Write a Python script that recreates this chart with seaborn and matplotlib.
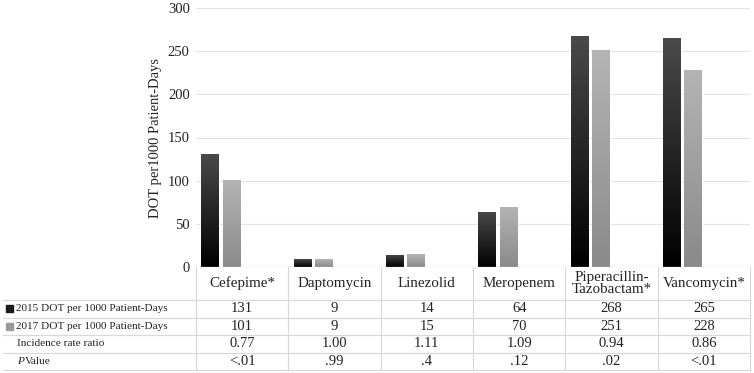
import numpy as np
import pandas as pd
import seaborn as sns
import matplotlib.pyplot as plt
from matplotlib.transforms import blended_transform_factory
from matplotlib.patches import Rectangle
from matplotlib.colors import LinearSegmentedColormap

categories = ["Cefepime*", "Daptomycin", "Linezolid", "Meropenem",
              "Piperacillin-\nTazobactam*", "Vancomycin*"]
dot_2015 = [131, 9, 14, 64, 268, 265]
dot_2017 = [101, 9, 15, 70, 251, 228]
irr = ["0.77", "1.00", "1.11", "1.09", "0.94", "0.86"]
p_values = ["<.01", ".99", ".4", ".12", ".02", "<.01"]
row_labels = ["2015 DOT per 1000 Patient-Days", "2017 DOT per 1000 Patient-Days",
              "Incidence rate ratio", "Value"]

sns.set_theme(style="white")
plt.rcParams["font.family"] = ["Liberation Serif", "DejaVu Serif"]
text_col = "#222222"
line_col = "#d9d9d9"

df = pd.DataFrame({
    "drug": categories * 2,
    "dot": dot_2015 + dot_2017,
    "year": ["2015"] * 6 + ["2017"] * 6,
})

W, H = 754, 373
fig = plt.figure(figsize=(W / 100, H / 100), dpi=100)


def fy(py):
    return 1 - py / H


ax = fig.add_axes([196 / W, fy(267), (750 - 196) / W, (267 - 8) / H])
sns.barplot(data=df, x="drug", y="dot", hue="year", order=categories,
            hue_order=["2015", "2017", "irr", "p"],
            palette=["#222222", "#9a9a9a", "#ffffff", "#ffffff"],
            width=0.92, gap=0.17, legend=False, ax=ax, zorder=3)

# vertical gradient fill on each bar
grads = [LinearSegmentedColormap.from_list("d", ["#000000", "#4a4a4a"]),
         LinearSegmentedColormap.from_list("l", ["#8a8a8a", "#b4b4b4"])]
grad = np.linspace(0, 1, 256).reshape(-1, 1)
for cont, cmap in zip(ax.containers[:2], grads):
    for bar in cont:
        x0, w, h = bar.get_x(), bar.get_width(), bar.get_height()
        im = ax.imshow(grad, cmap=cmap, aspect="auto", origin="lower",
                       extent=[x0, x0 + w, 0, h], zorder=4)
        im.set_clip_path(bar)

ax.set_xlim(-0.5, 5.5)
ax.set_ylim(0, 300)
ax.set_yticks(range(0, 301, 50))
ax.yaxis.grid(True, color="#e4e4e4", lw=0.8, zorder=0)
ax.set_xticks([])
ax.set_xlabel("")
for s in ax.spines.values():
    s.set_visible(False)
ax.tick_params(axis="y", length=0, pad=4.5, labelsize=10.5, labelcolor=text_col)
ax.set_ylabel("DOT per1000 Patient-Days", fontsize=10.5, color=text_col, labelpad=4)
ax.axhline(0, color=line_col, lw=0.9, zorder=5)

# data table under the chart
tr = blended_transform_factory(ax.transData, fig.transFigure)
row_edges = [299.5, 317.5, 335, 352.5, 370]
for py in row_edges:
    fig.add_artist(plt.Line2D([3 / W, 750 / W], [fy(py), fy(py)], color=line_col, lw=0.9))
for i in range(7):
    fig.add_artist(plt.Line2D([i - 0.5, i - 0.5], [fy(267), fy(370)], transform=tr,
                              color=line_col, lw=0.9))

for i, name in enumerate(categories):
    fig.text(i, fy(283.5), name, transform=tr, ha="center", va="center",
             fontsize=10.8, color=text_col, linespacing=0.85)

rows = [[str(v) for v in dot_2015], [str(v) for v in dot_2017], irr, p_values]
for r, vals in enumerate(rows):
    yc = fy((row_edges[r] + row_edges[r + 1]) / 2)
    for i, v in enumerate(vals):
        fig.text(i, yc, v, transform=tr, ha="center", va="center",
                 fontsize=10.5, color=text_col)

for r, lab in enumerate(row_labels):
    yc = fy((row_edges[r] + row_edges[r + 1]) / 2)
    if r < 2:
        fig.add_artist(Rectangle((6 / W, yc - 3.5 / H), 7 / W, 7 / H,
                                 color=["#1a1a1a", "#9a9a9a"][r], transform=fig.transFigure))
        fig.text(16 / W, yc, lab, ha="left", va="center", fontsize=8.1, color=text_col)
    elif r == 2:
        fig.text(17 / W, yc, lab, ha="left", va="center", fontsize=8.1, color=text_col)
    else:
        fig.text(17 / W, yc, "P", ha="left", va="center", fontsize=8.1,
                 style="italic", color=text_col)
        fig.text(25 / W, yc, lab, ha="left", va="center", fontsize=8.1, color=text_col)

fig.savefig("out.png", dpi=100)
